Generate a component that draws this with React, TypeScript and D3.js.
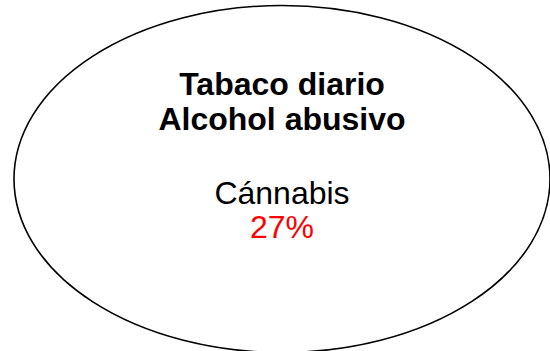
import React from "react";
import * as d3 from "d3";

const boldLines: string[] = ["Tabaco diario", "Alcohol abusivo"];
const categoryLabel: string[] = ["Cánnabis"];
const values: number[] = [27];

const W = 550;
const H = 351;

export default function App() {
  const fmt = d3.format(".0f");
  const cx = 282;
  const cy = 179;
  return (
    <svg
      width={W}
      height={H}
      style={{ position: "absolute", left: 0, top: 0, background: "#fff" }}
      fontFamily="'Liberation Sans', Arial, Helvetica, sans-serif"
    >
      <ellipse cx={cx} cy={cy} rx={268} ry={173.5} fill="none" stroke="#000" strokeWidth={1.6} />
      {boldLines.map((t, i) => (
        <text key={t} x={cx} y={95 + i * 35} textAnchor="middle" fontWeight="bold" fontSize={32} fill="#000">
          {t}
        </text>
      ))}
      {categoryLabel.map((t, i) => (
        <g key={t}>
          <text x={cx} y={204} textAnchor="middle" fontSize={32} fill="#000">
            {t}
          </text>
          <text x={cx} y={238} textAnchor="middle" fontSize={32} fill="#ff0000">
            {fmt(values[i]) + "%"}
          </text>
        </g>
      ))}
    </svg>
  );
}
